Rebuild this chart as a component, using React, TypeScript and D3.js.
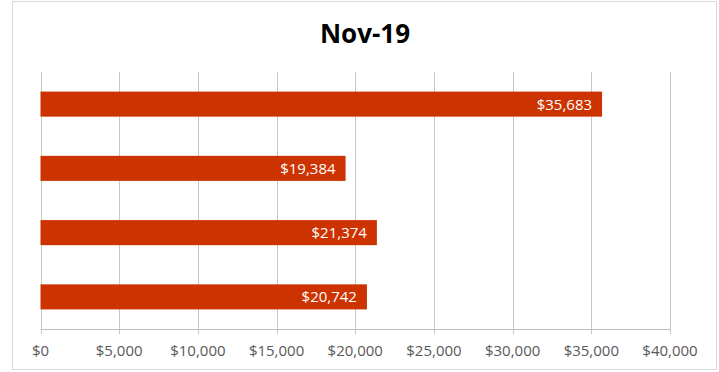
import React, { useEffect, useRef } from "react";
import * as d3 from "d3";

const categories = ["A", "B", "C", "D"];
const values = [35683, 19384, 21374, 20742];
const tickValues = [0, 5000, 10000, 15000, 20000, 25000, 30000, 35000, 40000];
const title = "Nov-19";

const App: React.FC = () => {
  const svgRef = useRef<SVGSVGElement>(null);

  useEffect(() => {
    if (!svgRef.current) return;
    const width = 719;
    const height = 372;
    const margin = { top: 72, right: 49, bottom: 43, left: 40.5 };

    const svg = d3.select(svgRef.current);
    svg.selectAll("*").remove();

    // chart border
    svg
      .append("rect")
      .attr("x", 12.5)
      .attr("y", 1.5)
      .attr("width", 704)
      .attr("height", 368)
      .attr("fill", "#fff")
      .attr("stroke", "#d9d9d9")
      .attr("stroke-width", 1);

    const x = d3
      .scaleLinear()
      .domain([0, 40000])
      .range([margin.left, width - margin.right]);

    const y = d3
      .scaleBand()
      .domain(categories)
      .range([margin.top, height - margin.bottom])
      .paddingInner(0.61)
      .paddingOuter(0.305);

    const fmt = (v: number) => "$" + d3.format(",")(v);

    // gridlines + ticks
    svg
      .append("g")
      .selectAll("line")
      .data(tickValues)
      .enter()
      .append("line")
      .attr("x1", d => Math.round(x(d)) + 0.5)
      .attr("x2", d => Math.round(x(d)) + 0.5)
      .attr("y1", margin.top)
      .attr("y2", height - margin.bottom + 5)
      .attr("stroke", "#c8c8c8")
      .attr("stroke-width", 1);

    // axis line
    svg
      .append("line")
      .attr("x1", x(0))
      .attr("x2", x(40000))
      .attr("y1", height - margin.bottom + 0.5)
      .attr("y2", height - margin.bottom + 0.5)
      .attr("stroke", "#bfbfbf");

    // tick labels
    svg
      .append("g")
      .selectAll("text")
      .data(tickValues)
      .enter()
      .append("text")
      .attr("x", d => x(d))
      .attr("y", 356)
      .attr("text-anchor", "middle")
      .style("font-family", "'Open Sans', sans-serif")
      .style("font-size", "15px")
      .attr("fill", "#595959")
      .text(d => fmt(d));

    // bars
    const bars = svg.append("g");
    bars
      .selectAll("rect")
      .data(values)
      .enter()
      .append("rect")
      .attr("x", x(0))
      .attr("y", (d, i) => y(categories[i])!)
      .attr("width", d => x(d) - x(0))
      .attr("height", y.bandwidth())
      .attr("fill", "#cc3300");

    bars
      .selectAll("text")
      .data(values)
      .enter()
      .append("text")
      .attr("x", d => x(d) - 10)
      .attr("y", (d, i) => y(categories[i])! + y.bandwidth() / 2)
      .attr("dy", "0.36em")
      .attr("text-anchor", "end")
      .style("font-family", "'Open Sans', sans-serif")
      .style("font-size", "15px")
      .attr("fill", "#ffffff")
      .text(d => fmt(d));

    // title
    svg
      .append("text")
      .attr("x", 365)
      .attr("y", 43)
      .attr("text-anchor", "middle")
      .style("font-family", "'Open Sans', sans-serif")
      .style("font-size", "26px")
      .style("font-weight", "bold")
      .attr("fill", "#000")
      .text(title);
  }, []);

  return (
    <svg
      ref={svgRef}
      width={719}
      height={372}
      style={{ position: "absolute", left: 0, top: 0, display: "block" }}
    ></svg>
  );
};

export default App;
